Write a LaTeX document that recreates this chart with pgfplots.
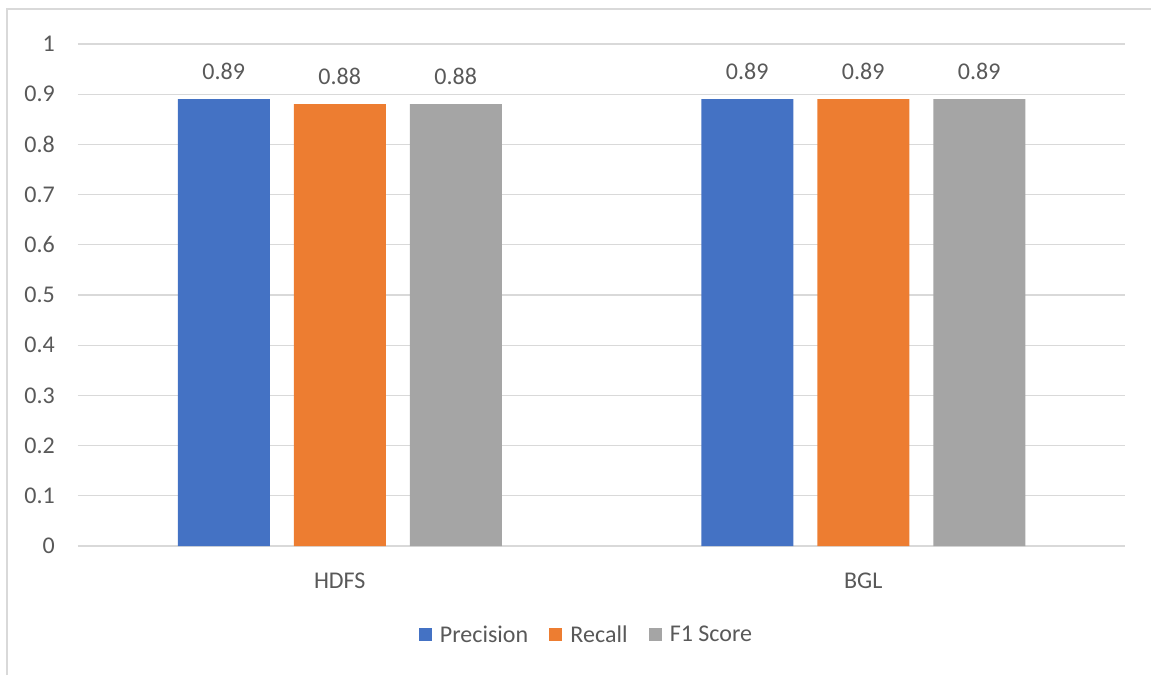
\documentclass[border=0pt]{standalone}
\usepackage{fontspec}
\setmainfont{Carlito}
\usepackage{pgfplots}
\pgfplotsset{compat=1.18}
\definecolor{cblue}{HTML}{4472C4}
\definecolor{corange}{HTML}{ED7D31}
\definecolor{cgray}{HTML}{A5A5A5}
\definecolor{ctext}{HTML}{595959}
\definecolor{cgrid}{HTML}{D9D9D9}
\begin{document}
\begin{tikzpicture}
\useasboundingbox (-58.5pt,-96.75pt) rectangle (804.75pt,409.5pt);
\draw[color=cgrid, line width=1.1pt] (-53.25pt,-96.75pt) -- (-53.25pt,402.75pt) -- (804.75pt,402.75pt);
\begin{axis}[
  at={(0pt,0pt)}, anchor=south west,
  scale only axis, width=785.25pt, height=376.5pt,
  xmin=-0.5, xmax=1.5, ymin=0, ymax=1,
  ybar=18pt, bar width=69pt,
  xtick={0,1}, xticklabels={HDFS,BGL},
  ytick={0,0.1,...,1.01},
  axis line style={draw=none},
  major tick length=0pt,
  ymajorgrids, grid style={cgrid, line width=0.8pt},
  font=\fontsize{18}{21}\selectfont,
  tick label style={text=ctext, font=\fontsize{18}{21}\selectfont},
  /pgf/number format/assume math mode=true,
  yticklabel style={anchor=east, inner sep=0pt, xshift=-17.25pt},
  xticklabel style={anchor=center, inner sep=0pt, yshift=-26.25pt},
  nodes near coords,
  nodes near coords style={anchor=center, inner sep=0pt, yshift=21pt, text=ctext, font=\fontsize{18}{21}\selectfont, /pgf/number format/.cd, fixed, precision=2, fixed zerofill, assume math mode=true},
  legend columns=3,
  legend style={draw=none, at={(0.486,-0.177)}, anchor=center, text=ctext, font=\fontsize{18}{21}\selectfont,
    /tikz/every odd column/.append style={column sep=4pt},
    /tikz/every even column/.append style={column sep=14pt},
    nodes={inner sep=2pt}},
  legend image code/.code={\fill[#1] (0pt,-4.9pt) rectangle (9.75pt,4.9pt);},
  clip=false,
]
\addplot[fill=cblue, draw=none] coordinates {(0,0.89) (1,0.89)};
\addplot[fill=corange, draw=none] coordinates {(0,0.88) (1,0.89)};
\addplot[fill=cgray, draw=none] coordinates {(0,0.88) (1,0.89)};
\legend{Precision, Recall, F1 Score}
\end{axis}
\end{tikzpicture}
\end{document}
